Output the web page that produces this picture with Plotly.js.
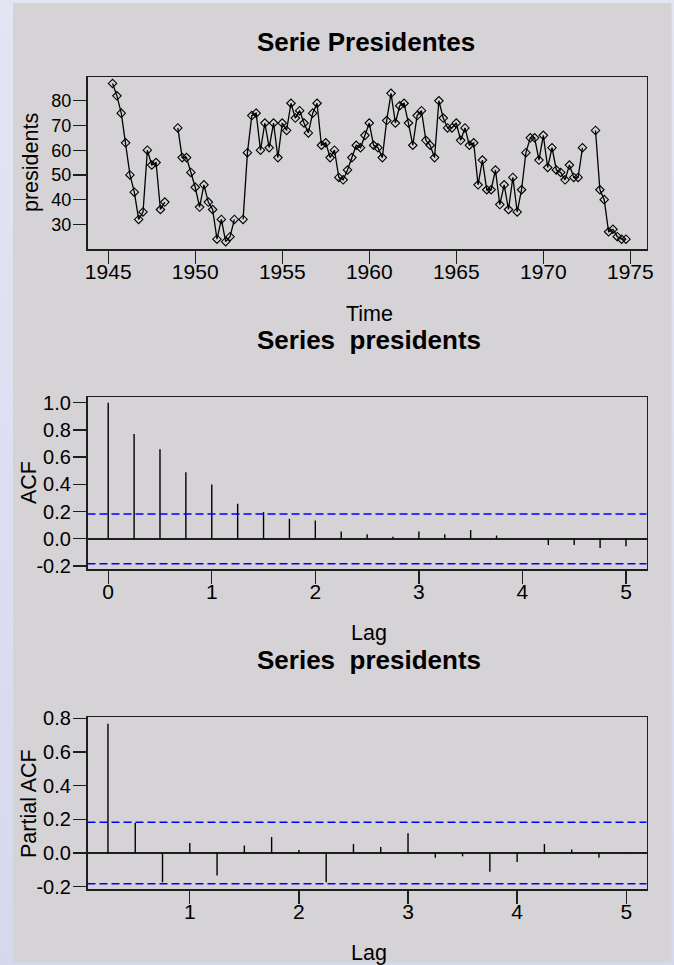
<!DOCTYPE html>
<html><head><meta charset="utf-8">
<script src="https://cdn.plot.ly/plotly-3.0.1.min.js"></script>
<style>
html,body{margin:0;padding:0;width:674px;height:965px;overflow:hidden;background:linear-gradient(#e4e5f3,#d4d9ec);}
#chart{width:674px;height:965px;}
</style></head><body><div id="chart"></div>
<script>
// Quarterly approval ratings of US presidents (null = missing)
const startYear = 1945;
const frequency = 4;
const approval = [
  null, 87, 82, 75,   63, 50, 43, 32,   35, 60, 54, 55,   36, 39, null, null,
  69, 57, 57, 51,     45, 37, 46, 39,   36, 24, 32, 23,   25, 32, null, 32,
  59, 74, 75, 60,     71, 61, 71, 57,   71, 68, 79, 73,   76, 71, 67, 75,
  79, 62, 63, 57,     60, 49, 48, 52,   57, 62, 61, 66,   71, 62, 61, 57,
  72, 83, 71, 78,     79, 71, 62, 74,   76, 64, 62, 57,   80, 73, 69, 69,
  71, 64, 69, 62,     63, 46, 56, 44,   44, 52, 38, 46,   36, 49, 35, 44,
  59, 65, 65, 56,     66, 53, 61, 52,   51, 48, 54, 49,   49, 61, null, null,
  68, 44, 40, 27,     28, 25, 24, 24
];
const yearTicks = [1945, 1950, 1955, 1960, 1965, 1970, 1975];
const approvalTicks = [30, 40, 50, 60, 70, 80];

const acfLag = [0, 0.25, 0.5, 0.75, 1, 1.25, 1.5, 1.75, 2, 2.25, 2.5, 2.75, 3, 3.25, 3.5, 3.75, 4, 4.25, 4.5, 4.75, 5];
const acfValue = [1.0, 0.770, 0.658, 0.489, 0.399, 0.257, 0.196, 0.147, 0.134, 0.054, 0.034, 0.015, 0.054, 0.034, 0.064, 0.024, 0.003, -0.046, -0.046, -0.068, -0.054];
const acfTicks = [-0.2, 0.0, 0.2, 0.4, 0.6, 0.8, 1.0];
const acfTickText = ['-0.2', '0.0', '0.2', '0.4', '0.6', '0.8', '1.0'];
const lagTicksAcf = [0, 1, 2, 3, 4, 5];

const pacfLag = [0.25, 0.5, 0.75, 1, 1.25, 1.5, 1.75, 2, 2.25, 2.5, 2.75, 3, 3.25, 3.5, 3.75, 4, 4.25, 4.5, 4.75, 5];
const pacfValue = [0.767, 0.178, -0.174, 0.059, -0.134, 0.045, 0.095, 0.018, -0.174, 0.053, 0.036, 0.117, -0.028, -0.020, -0.111, -0.053, 0.053, 0.020, -0.028, -0.003];
const pacfTicks = [-0.2, 0.0, 0.2, 0.4, 0.6, 0.8];
const pacfTickText = ['-0.2', '0.0', '0.2', '0.4', '0.6', '0.8'];
const lagTicksPacf = [1, 2, 3, 4, 5];

const confLimit = 0.1826;

// ---- build traces ----
const time = approval.map((v, i) => startYear + i / frequency);

function stems(lags, vals) {
  const x = [], y = [];
  lags.forEach((l, i) => { x.push(l, l, null); y.push(0, vals[i], null); });
  return { x, y };
}
const acfStems = stems(acfLag, acfValue);
const pacfStems = stems(pacfLag, pacfValue);

const FONT = 'Liberation Sans, Arial, Helvetica, sans-serif';
const W = 674, H = 965;
const px = v => v / W;
const py = v => 1 - v / H;

const traces = [
  {
    x: time, y: approval, xaxis: 'x', yaxis: 'y', type: 'scatter', mode: 'lines+markers',
    connectgaps: false,
    line: { color: '#000', width: 1.3 },
    marker: { symbol: 'diamond-open', size: 6.5, color: '#000', line: { width: 1.1, color: '#000' } },
    hoverinfo: 'x+y'
  },
  {
    x: acfStems.x, y: acfStems.y, xaxis: 'x2', yaxis: 'y2', type: 'scatter', mode: 'lines',
    line: { color: '#000', width: 1.4 }, hoverinfo: 'skip'
  },
  {
    x: pacfStems.x, y: pacfStems.y, xaxis: 'x3', yaxis: 'y3', type: 'scatter', mode: 'lines',
    line: { color: '#000', width: 1.4 }, hoverinfo: 'skip'
  }
];

const xDomain = [px(87.5), px(646.7)];
function axisBase(extra) {
  return Object.assign({
    showline: true, mirror: true, linecolor: '#1e1e1e', linewidth: 1.6,
    ticks: 'outside', ticklen: 13, tickwidth: 1.4, tickcolor: '#1e1e1e',
    showgrid: false, zeroline: false, fixedrange: true,
    tickfont: { family: FONT, size: 21, color: '#000' }
  }, extra);
}
const xLabelShift = -10;
const yLabelShift = -2;

const xRange1 = [1943.81, 1975.94];
const yRange1 = [19.9, 89.5];
const xRange2 = [-0.2, 5.2];
const yRange2 = [-0.222, 1.04];
const xRange3 = [0.0625, 5.1875];
const yRange3 = [-0.214, 0.806];

const layout = {
  width: W, height: H,
  margin: { l: 0, r: 0, t: 0, b: 0, pad: 0 },
  paper_bgcolor: 'rgba(0,0,0,0)', plot_bgcolor: 'rgba(0,0,0,0)',
  showlegend: false,
  font: { family: FONT, color: '#000' },
  title: {
    text: '<b>Serie Presidentes</b>', font: { family: FONT, size: 26, color: '#000' },
    x: px(366), xanchor: 'center', xref: 'paper', y: py(42), yanchor: 'middle', yref: 'paper'
  },
  xaxis: axisBase({ domain: xDomain, anchor: 'y', range: xRange1, tickvals: yearTicks, ticklabelstandoff: xLabelShift }),
  yaxis: axisBase({ domain: [py(249.3), py(77.3)], anchor: 'x', range: yRange1, tickvals: approvalTicks,
                    ticklabelstandoff: yLabelShift,
                    tickfont: { family: FONT, size: 18, color: '#000' } }),
  xaxis2: axisBase({ domain: xDomain, anchor: 'y2', range: xRange2, tickvals: lagTicksAcf, ticklabelstandoff: xLabelShift }),
  yaxis2: axisBase({ domain: [py(569), py(397.3)], anchor: 'x2', range: yRange2,
                     tickvals: acfTicks, ticktext: acfTickText, ticklabelstandoff: yLabelShift,
                     zeroline: true, zerolinecolor: '#1e1e1e', zerolinewidth: 1.5,
                     tickfont: { family: FONT, size: 20, color: '#000' } }),
  xaxis3: axisBase({ domain: xDomain, anchor: 'y3', range: xRange3, tickvals: lagTicksPacf, ticklabelstandoff: xLabelShift }),
  yaxis3: axisBase({ domain: [py(889), py(717.3)], anchor: 'x3', range: yRange3,
                     tickvals: pacfTicks, ticktext: pacfTickText, ticklabelstandoff: yLabelShift,
                     zeroline: true, zerolinecolor: '#1e1e1e', zerolinewidth: 1.5,
                     tickfont: { family: FONT, size: 20, color: '#000' } }),
  shapes: [
    { type: 'rect', xref: 'paper', yref: 'paper', x0: px(13), x1: px(671.5), y0: py(962), y1: py(3),
      fillcolor: '#d5d3d6', line: { width: 0 }, layer: 'below' },
    { type: 'line', xref: 'x2', yref: 'y2', x0: xRange2[0], x1: xRange2[1], y0: confLimit, y1: confLimit,
      line: { color: '#0000ff', width: 1.5, dash: '8px,4px' } },
    { type: 'line', xref: 'x2', yref: 'y2', x0: xRange2[0], x1: xRange2[1], y0: -confLimit, y1: -confLimit,
      line: { color: '#0000ff', width: 1.5, dash: '8px,4px' } },
    { type: 'line', xref: 'x3', yref: 'y3', x0: xRange3[0], x1: xRange3[1], y0: confLimit, y1: confLimit,
      line: { color: '#0000ff', width: 1.5, dash: '8px,4px' } },
    { type: 'line', xref: 'x3', yref: 'y3', x0: xRange3[0], x1: xRange3[1], y0: -confLimit, y1: -confLimit,
      line: { color: '#0000ff', width: 1.5, dash: '8px,4px' } }
  ],
  annotations: [
    { text: 'Time', xref: 'paper', yref: 'paper', x: px(369), y: py(314), xanchor: 'center', yanchor: 'middle',
      showarrow: false, font: { family: FONT, size: 21.5 } },
    { text: 'presidents', xref: 'paper', yref: 'paper', x: px(31), y: py(163), xanchor: 'center', yanchor: 'middle',
      textangle: -90, showarrow: false, font: { family: FONT, size: 21.5 } },
    { text: '<b>Series  presidents</b>', xref: 'paper', yref: 'paper', x: px(369), y: py(340), xanchor: 'center', yanchor: 'middle',
      showarrow: false, font: { family: FONT, size: 26 } },
    { text: 'ACF', xref: 'paper', yref: 'paper', x: px(29), y: py(483), xanchor: 'center', yanchor: 'middle',
      textangle: -90, showarrow: false, font: { family: FONT, size: 21.5 } },
    { text: 'Lag', xref: 'paper', yref: 'paper', x: px(369), y: py(633), xanchor: 'center', yanchor: 'middle',
      showarrow: false, font: { family: FONT, size: 21.5 } },
    { text: '<b>Series  presidents</b>', xref: 'paper', yref: 'paper', x: px(369), y: py(660), xanchor: 'center', yanchor: 'middle',
      showarrow: false, font: { family: FONT, size: 26 } },
    { text: 'Partial ACF', xref: 'paper', yref: 'paper', x: px(29), y: py(804), xanchor: 'center', yanchor: 'middle',
      textangle: -90, showarrow: false, font: { family: FONT, size: 21.5 } },
    { text: 'Lag', xref: 'paper', yref: 'paper', x: px(369), y: py(953), xanchor: 'center', yanchor: 'middle',
      showarrow: false, font: { family: FONT, size: 21.5 } }
  ]
};

Plotly.newPlot('chart', traces, layout, { displayModeBar: false, staticPlot: true });
</script>
</body></html>
